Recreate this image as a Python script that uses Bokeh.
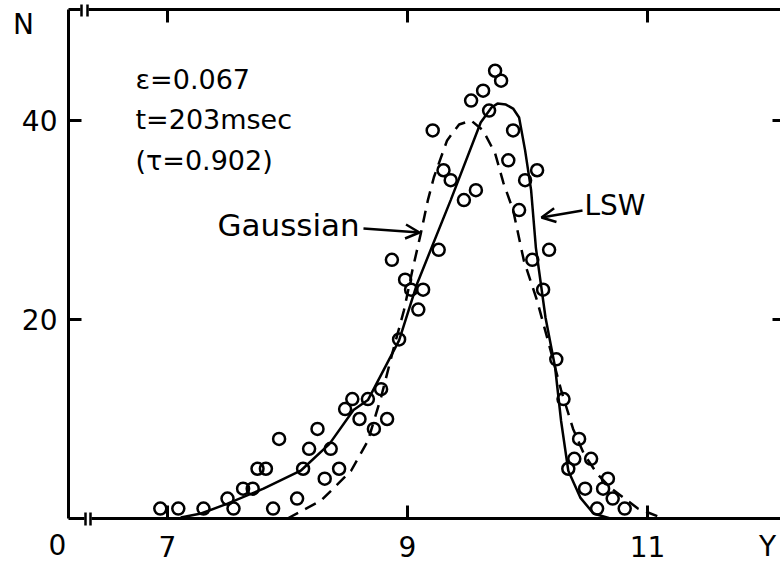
from bokeh.plotting import figure
from bokeh.models import Range1d, Arrow, OpenHead
from bokeh.core.properties import value
from bokeh.embed import file_html
from bokeh.resources import INLINE

# ---- data ----
x_obs = [6.94, 7.09, 7.30, 7.50, 7.55, 7.63, 7.71, 7.75, 7.82, 7.93, 7.88, 8.08,
         8.13, 8.18, 8.25, 8.36, 8.31, 8.43, 8.48, 8.54, 8.60, 8.67, 8.72, 8.78,
         8.83, 8.93, 8.87, 8.98, 9.03, 9.13, 9.09, 9.26, 9.47, 9.21, 9.30, 9.36,
         9.57, 9.53, 9.63, 9.73, 9.78, 9.68, 9.88, 9.84, 9.98, 10.08, 9.93, 10.04,
         10.18, 10.13, 10.24, 10.30, 10.43, 10.53, 10.39, 10.34, 10.67, 10.48,
         10.63, 10.71, 10.58, 10.81]
n_obs = [1, 1, 1, 2, 1, 3, 3, 5, 5, 8, 1, 2,
         5, 7, 9, 7, 4, 5, 11, 12, 10, 12, 9, 13,
         10, 18, 26, 24, 23, 23, 21, 27, 32, 39, 35, 34,
         33, 42, 43, 45, 44, 41, 39, 36, 34, 35, 31, 26,
         27, 23, 16, 12, 8, 6, 6, 5, 4, 3,
         3, 2, 1, 1]

x_lsw = [7.11, 7.28, 7.50, 7.80, 8.11, 8.35, 8.55, 8.67, 8.93, 9.08, 9.36, 9.61,
         9.70, 9.75, 9.82, 9.88, 9.93, 9.98, 10.03, 10.07, 10.15, 10.23, 10.28,
         10.34, 10.44, 10.55, 10.69]
n_lsw = [0.1, 0.5, 1.5, 3.0, 4.8, 7.5, 10.9, 11.9, 17.9, 23.6, 32.0, 39.8,
         41.3, 41.7, 41.6, 41.2, 40.3, 37.0, 33.0, 27.2, 20.2, 15.2, 9.8,
         4.8, 2.1, 0.5, 0.0]

x_gauss = [8.00, 8.28, 8.53, 8.67, 8.78, 8.88, 8.97, 9.04, 9.11, 9.17, 9.22, 9.33,
           9.43, 9.53, 9.63, 9.73, 9.80, 9.88, 9.97, 10.08, 10.17, 10.28, 10.38,
           10.47, 10.58, 10.69, 10.92, 11.11]
n_gauss = [0.0, 1.8, 4.8, 7.8, 12.2, 16.9, 20.9, 24.9, 28.6, 32.0, 34.3, 38.0,
           39.6, 40.0, 39.0, 36.7, 33.7, 31.0, 25.9, 21.9, 17.9, 12.9, 9.0,
           6.5, 4.5, 3.1, 1.0, 0.1]

x_ticks = [7, 9, 11]
y_ticks = [20, 40]
param_lines = ["ε=0.067", "t=203msec", "(τ=0.902)"]

# ---- layout (pixels) ----
W, H = 780, 565
L, R, T, B = 68, 780, 9, 518
PX9, XS, YS = 407.0, 120.0, 9.95
FONT = "DejaVu Sans"
LW = 3


def dx(px):
    return 9.0 + (px - PX9) / XS


def dy(py):
    return (B - py) / YS


p = figure(width=W, height=H, output_backend="svg", toolbar_location=None,
           x_range=Range1d(dx(0), dx(W)), y_range=Range1d(dy(H), dy(0)),
           min_border=0, x_axis_location=None, y_axis_location=None)
p.outline_line_color = None
p.grid.visible = False
p.background_fill_color = "white"
p.border_fill_color = "white"

x_left, x_right = dx(L), dx(R)
n_top = dy(T)

# frame lines (left, bottom, top) with axis breaks
p.segment(x0=[x_left, x_left, x_left], y0=[0, 0, n_top],
          x1=[x_left, x_right, x_right], y1=[n_top, 0, n_top],
          line_color="black", line_width=LW)
p.segment(x0=[dx(84), dx(80)], y0=[0, n_top], x1=[dx(91), dx(88)], y1=[0, n_top],
          line_color="white", line_width=LW + 3)
p.segment(x0=[dx(85), dx(90), dx(81), dx(87)],
          y0=[dy(B + 7), dy(B + 7), dy(T + 7), dy(T + 7)],
          x1=[dx(85), dx(90), dx(81), dx(87)],
          y1=[dy(B - 6), dy(B - 6), dy(T - 5), dy(T - 5)],
          line_color="black", line_width=2.5)

# ticks (inward)
tin = 13
p.segment(x0=x_ticks, y0=[0] * len(x_ticks), x1=x_ticks, y1=[tin / YS] * len(x_ticks),
          line_color="black", line_width=LW)
p.segment(x0=x_ticks, y0=[n_top] * len(x_ticks), x1=x_ticks,
          y1=[n_top - tin / YS] * len(x_ticks), line_color="black", line_width=LW)
p.segment(x0=[x_left] * len(y_ticks), y0=y_ticks, x1=[x_left + tin / XS] * len(y_ticks),
          y1=y_ticks, line_color="black", line_width=LW)
p.segment(x0=[x_right - 8 / XS] * len(y_ticks), y0=y_ticks, x1=[x_right] * len(y_ticks),
          y1=y_ticks, line_color="black", line_width=LW)

# tick labels
p.text(x=x_ticks, y=[dy(546)] * len(x_ticks), text=[str(t) for t in x_ticks],
       text_font=value(FONT), text_font_size=value("28px"), text_align="center",
       text_baseline="middle", text_color="black")
p.text(x=[dx(57)] * len(y_ticks), y=y_ticks, text=[str(t) for t in y_ticks],
       text_font=value(FONT), text_font_size=value("28px"), text_align="right",
       text_baseline="middle", text_color="black")
p.text(x=[dx(57), dx(767), dx(23)], y=[dy(544), dy(546), dy(24)], text=["0", "Y", "N"],
       text_font=value(FONT), text_font_size=value("28px"), text_align="center",
       text_baseline="middle", text_color="black")

# curves and points
p.line(x_gauss, n_gauss, line_color="black", line_width=2.5, line_dash="12 8")
p.line(x_lsw, n_lsw, line_color="black", line_width=2.5)
p.scatter(x_obs, n_obs, marker="circle", size=12, fill_color=None,
          line_color="black", line_width=2.5)

# annotation texts
p.text(x=[dx(135)] * 3, y=[dy(79), dy(119), dy(160)], text=param_lines,
       text_font=value(FONT), text_font_size=value("27px"), text_align="left",
       text_baseline="middle", text_color="black")
p.text(x=[dx(217)], y=[dy(224)], text=["Gaussian"], text_font=value(FONT),
       text_font_size=value("31px"), text_align="left", text_baseline="middle",
       text_color="black")
p.text(x=[dx(584)], y=[dy(205)], text=["LSW"], text_font=value(FONT),
       text_font_size=value("28px"), text_align="left", text_baseline="middle",
       text_color="black")

p.add_layout(Arrow(end=OpenHead(size=14, line_width=2.5, line_color="black"),
                   x_start=dx(363), y_start=dy(228), x_end=dx(419), y_end=dy(232),
                   line_width=2.5, line_color="black"))
p.add_layout(Arrow(end=OpenHead(size=14, line_width=2.5, line_color="black"),
                   x_start=dx(582), y_start=dy(210), x_end=dx(541), y_end=dy(217),
                   line_width=2.5, line_color="black"))

open("out.html", "w").write(file_html(p, INLINE))
